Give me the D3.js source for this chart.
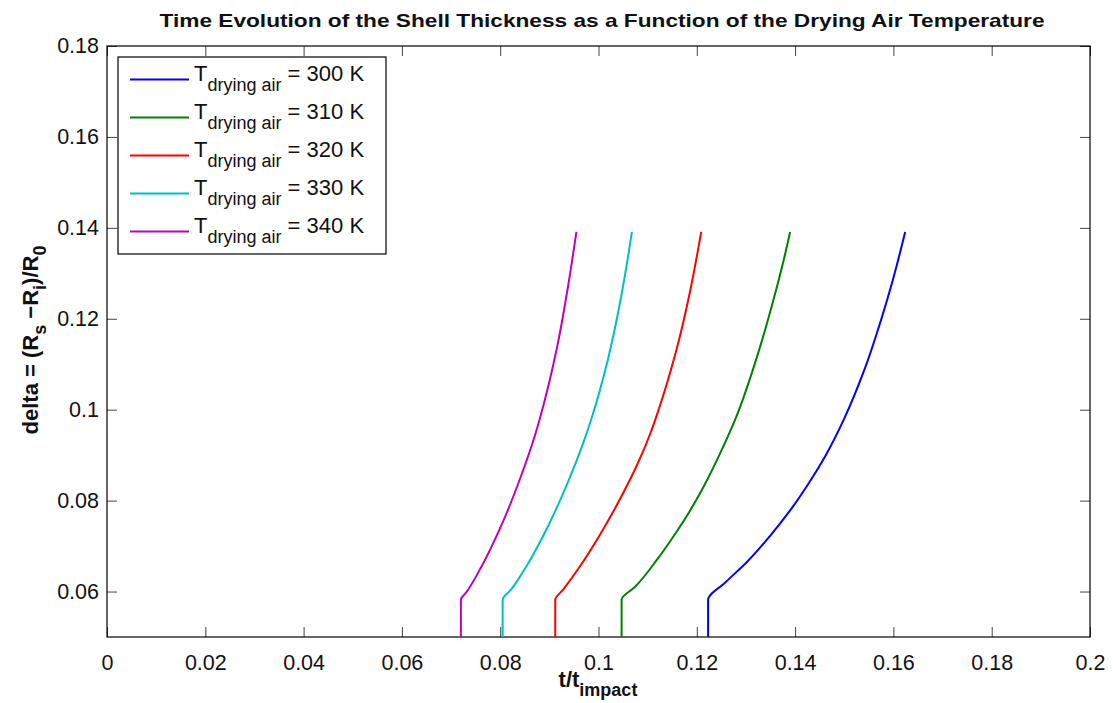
<!DOCTYPE html>
<html>
<head>
<meta charset="utf-8">
<script src="https://cdn.jsdelivr.net/npm/d3@7"></script>
<style>
  body { margin: 0; background: #fff; }
  text { font-family: "Liberation Sans", Arial, Helvetica, sans-serif; }
</style>
</head>
<body>
<div id="chart"></div>
<script>
// curve data: [t/t_impact, delta]
var blue300 = [[0.1223, 0.05], [0.1223, 0.0582], [0.1258, 0.0620], [0.1303, 0.0666], [0.1348, 0.0721], [0.1391, 0.0780], [0.1430, 0.0842], [0.1461, 0.0897], [0.1499, 0.0978], [0.1541, 0.1088], [0.1575, 0.1198], [0.1599, 0.1286], [0.1624, 0.1391]];
var green310 = [[0.1047, 0.05], [0.1047, 0.0582], [0.1075, 0.0611], [0.1119, 0.0670], [0.1151, 0.0719], [0.1184, 0.0774], [0.1216, 0.0835], [0.1251, 0.0912], [0.1278, 0.0978], [0.1325, 0.1125], [0.1356, 0.1242], [0.1377, 0.1330], [0.1390, 0.1391]];
var red320 = [[0.0912, 0.05], [0.0912, 0.0582], [0.0928, 0.0604], [0.0962, 0.0655], [0.1003, 0.0725], [0.1043, 0.0802], [0.1077, 0.0875], [0.1107, 0.0952], [0.1119, 0.0989], [0.1157, 0.1125], [0.1187, 0.1264], [0.1209, 0.1391]];
var cyan330 = [[0.0805, 0.05], [0.0805, 0.0582], [0.0822, 0.0604], [0.0858, 0.0664], [0.0897, 0.0743], [0.0934, 0.0831], [0.0969, 0.0927], [0.0985, 0.0978], [0.1019, 0.1110], [0.1046, 0.1248], [0.1068, 0.1391]];
var magenta340 = [[0.0720, 0.05], [0.0720, 0.0582], [0.0731, 0.0598], [0.0762, 0.0655], [0.0805, 0.0752], [0.0842, 0.0853], [0.0870, 0.0941], [0.0880, 0.0978], [0.0916, 0.1139], [0.0938, 0.1271], [0.0955, 0.1391]];

var temps = [300, 310, 320, 330, 340];
var colors = ["#0000ff", "#008000", "#ff0000", "#00bfbf", "#bf00bf"];
var seriesData = [blue300, green310, red320, cyan330, magenta340];

var xTicks = [0, 0.02, 0.04, 0.06, 0.08, 0.1, 0.12, 0.14, 0.16, 0.18, 0.2];
var yTicks = [0.06, 0.08, 0.1, 0.12, 0.14, 0.16, 0.18];

var margin = { top: 46, right: 23, bottom: 66, left: 107 },
    width = 1113 - margin.left - margin.right,
    height = 703 - margin.top - margin.bottom;

var root = d3.select("#chart")
    .append("svg")
    .attr("width", 1113)
    .attr("height", 703);

var svg = root.append("g")
    .attr("transform", "translate(" + margin.left + "," + margin.top + ")");

var x = d3.scaleLinear().domain([0, 0.2]).range([0, width]);
var y = d3.scaleLinear().domain([0.05, 0.18]).range([height, 0]);

// ticks on all four sides, pointing inward
function styleAxis(g) {
    g.select(".domain").remove();
    g.selectAll(".tick line").attr("stroke", "#444").attr("stroke-width", 1);
    g.selectAll(".tick text").attr("font-size", 21.5).attr("fill", "#111");
}

var fmt = function (d) { return String(+d.toFixed(2)); };

svg.append("g")
    .attr("transform", "translate(0," + height + ")")
    .call(d3.axisBottom(x).tickValues(xTicks).tickSizeInner(-10).tickSizeOuter(0).tickPadding(18).tickFormat(fmt))
    .call(styleAxis);

svg.append("g")
    .call(d3.axisTop(x).tickValues(xTicks).tickSizeInner(-10).tickSizeOuter(0).tickFormat(""))
    .call(styleAxis);

svg.append("g")
    .call(d3.axisLeft(y).tickValues(yTicks).tickSizeInner(-10).tickSizeOuter(0).tickPadding(8).tickFormat(fmt))
    .call(styleAxis);

svg.append("g")
    .attr("transform", "translate(" + width + ",0)")
    .call(d3.axisRight(y).tickValues(yTicks).tickSizeInner(-10).tickSizeOuter(0).tickFormat(""))
    .call(styleAxis);

svg.append("rect")
    .attr("width", width)
    .attr("height", height)
    .attr("fill", "none")
    .attr("stroke", "#000")
    .attr("stroke-width", 1.2);

// lines
var line = d3.line()
    .x(function (d) { return x(d[0]); })
    .y(function (d) { return y(d[1]); })
    .curve(d3.curveMonotoneY);

svg.append("g")
    .selectAll("path")
    .data(seriesData)
    .enter()
    .append("path")
    .attr("d", line)
    .attr("fill", "none")
    .attr("stroke", function (d, i) { return colors[i]; })
    .attr("stroke-width", 2);

// legend
var leg = root.append("g").attr("transform", "translate(118,57)");
leg.append("rect")
    .attr("width", 268)
    .attr("height", 197)
    .attr("fill", "#fff")
    .attr("stroke", "#000")
    .attr("stroke-width", 1.2);

var items = leg.selectAll(".item")
    .data(temps)
    .enter()
    .append("g")
    .attr("transform", function (d, i) { return "translate(0," + (22.5 + i * 38) + ")"; });

items.append("line")
    .attr("x1", 12).attr("x2", 71)
    .attr("stroke", function (d, i) { return colors[i]; })
    .attr("stroke-width", 2);

var lt = items.append("text")
    .attr("x", 76)
    .attr("y", 1)
    .attr("font-size", 22)
    .attr("fill", "#111");
lt.append("tspan").text("T");
lt.append("tspan").attr("dy", 10).attr("font-size", 18).text("drying air");
lt.append("tspan").attr("dy", -10).text(function (d) { return " = " + d + " K"; });

// title and axis labels
root.append("text")
    .attr("x", 602)
    .attr("y", 27)
    .attr("text-anchor", "middle")
    .attr("font-size", 19)
    .attr("font-weight", "bold")
    .attr("fill", "#111")
    .attr("textLength", 885)
    .attr("lengthAdjust", "spacingAndGlyphs")
    .text("Time Evolution of the Shell Thickness as a Function of the Drying Air Temperature");

var xl = root.append("text")
    .attr("x", 598)
    .attr("y", 687)
    .attr("text-anchor", "middle")
    .attr("font-size", 22)
    .attr("font-weight", "bold")
    .attr("fill", "#111");
xl.append("tspan").text("t/t");
xl.append("tspan").attr("dy", 9).attr("font-size", 18).text("impact");

var yl = root.append("text")
    .attr("transform", "translate(38,340) rotate(-90)")
    .attr("text-anchor", "middle")
    .attr("font-size", 22)
    .attr("font-weight", "bold")
    .attr("fill", "#111");
yl.append("tspan").text("delta = (R");
yl.append("tspan").attr("dy", 8).attr("font-size", 18).text("s");
yl.append("tspan").attr("dy", -8).text(" \u2212R");
yl.append("tspan").attr("dy", 8).attr("font-size", 18).text("i");
yl.append("tspan").attr("dy", -8).text(")/R");
yl.append("tspan").attr("dy", 8).attr("font-size", 18).text("0");
</script>
</body>
</html>
